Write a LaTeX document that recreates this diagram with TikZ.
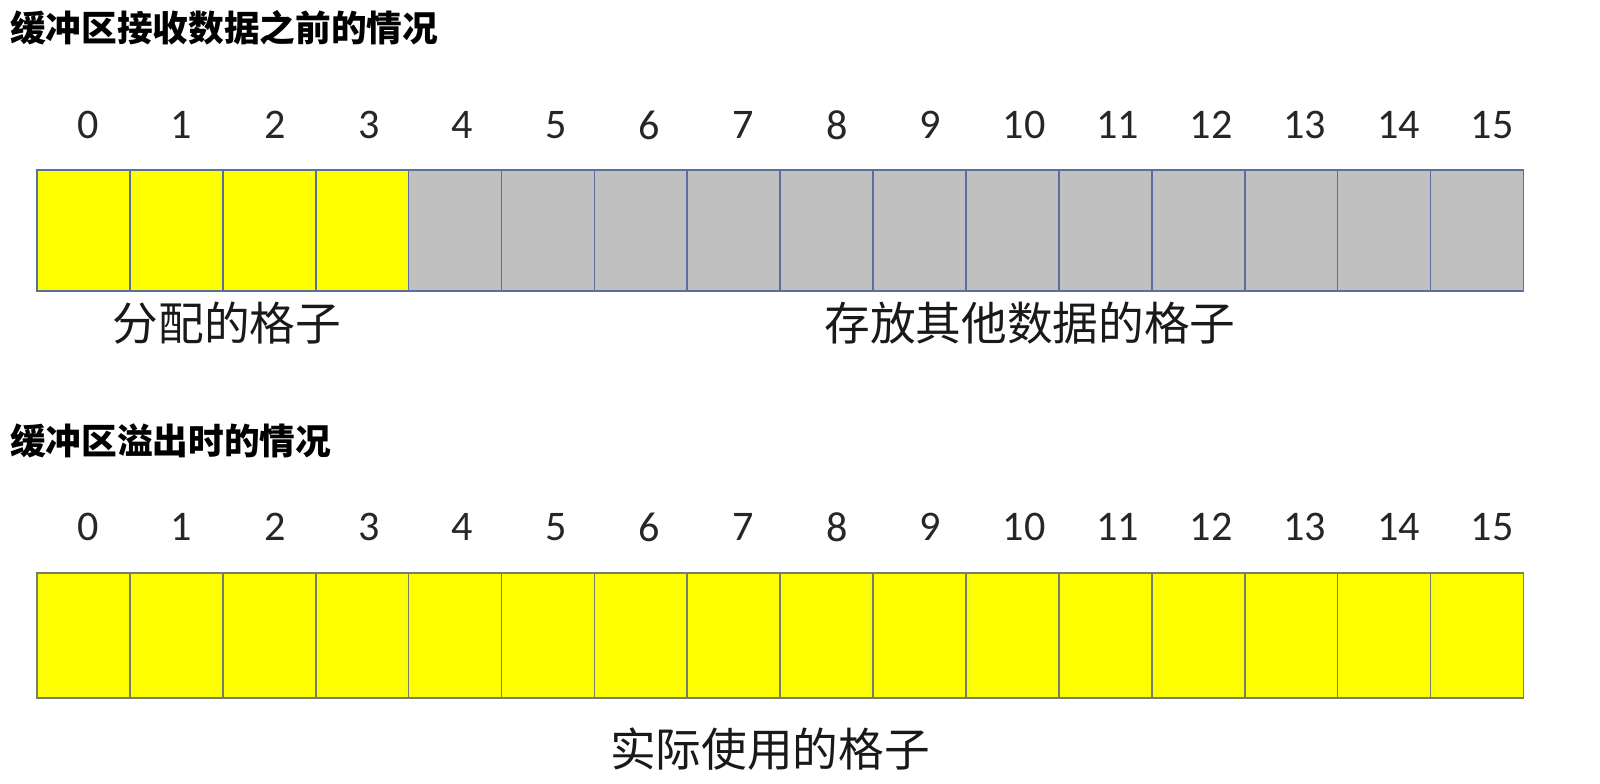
\documentclass[tikz,border=0pt]{standalone}
\usepackage{fontspec}
\setmainfont{Carlito}
\newfontfamily\cjk{Noto Sans CJK SC}
\definecolor{bordeazul}{RGB}{88,112,158}
\definecolor{bordegris}{RGB}{118,124,112}
\definecolor{celdagris}{RGB}{192,192,192}
\definecolor{celdaamarilla}{RGB}{255,255,0}
\tikzset{
  celda/.style={line width=1pt},
  num/.style={font=\fontsize{24}{28}\selectfont, text=black!85},
  titulo/.style={anchor=west, font=\cjk\bfseries\fontsize{20.3}{24}\selectfont},
  etiqueta/.style={font=\cjk\fontsize{26}{30}\selectfont, text=black!90}
}
\begin{document}
\begin{tikzpicture}
    \useasboundingbox (0,0) rectangle (32,-15.66);

    % Buffer 1
    \node[titulo] (titulo1) at (0.08,-0.56) {缓冲区接收数据之前的情况};
    \foreach \i in {0,...,3} {
        \draw[celda, draw=bordeazul, fill=celdaamarilla] (0.74+1.858*\i, -3.4) rectangle ++(1.858,-2.42);
    }
    \foreach \i in {4,...,15} {
        \draw[celda, draw=bordeazul, fill=celdagris] (0.74+1.858*\i, -3.4) rectangle ++(1.858,-2.42);
    }
    \foreach \i in {0,...,15} {
        \node[num] (a\i) at (1.76+1.872*\i, -2.5) {\i};
    }
    \node[etiqueta] (asignados) at (4.54,-6.46) {分配的格子};
    \node[etiqueta] (otros) at (20.6,-6.46) {存放其他数据的格子};

    % Buffer 2
    \node[titulo] (titulo2) at (0.08,-8.82) {缓冲区溢出时的情况};
    \foreach \i in {0,...,15} {
        \draw[celda, draw=bordegris, fill=celdaamarilla] (0.74+1.858*\i, -11.46) rectangle ++(1.858,-2.5);
        \node[num] (b\i) at (1.76+1.872*\i, -10.54) {\i};
    }
    \node[etiqueta] (usados) at (15.4,-14.98) {实际使用的格子};
\end{tikzpicture}
\end{document}
